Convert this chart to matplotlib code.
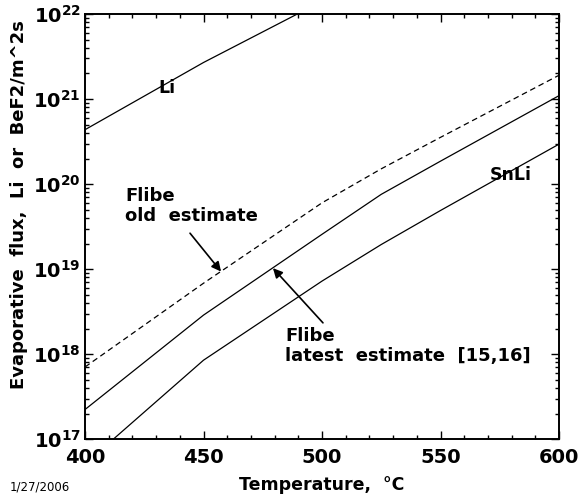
import numpy as np
import matplotlib
matplotlib.use("Agg")
import matplotlib.pyplot as plt
from matplotlib.ticker import LogLocator, MultipleLocator, NullFormatter

plt.rcParams['font.family'] = 'DejaVu Sans'
plt.rcParams['font.weight'] = 'bold'
plt.rcParams['mathtext.default'] = 'bf'

# temperatures (C) and log10 of flux
T = [400, 450, 500, 525, 550, 600]
T_li = [400, 450, 500]
log_li = [20.64, 21.43, 22.15]
log_flibe_old = [17.85, 18.835, 19.78, 20.18, 20.55, 21.28]
log_flibe_new = [17.35, 18.46, 19.41, 19.88, 20.27, 21.04]
log_snli = [16.71, 17.93, 18.86, 19.29, 19.69, 20.47]

li = 10**np.array(log_li)
flibe_old = 10**np.array(log_flibe_old)
flibe_new = 10**np.array(log_flibe_new)
snli = 10**np.array(log_snli)

fig = plt.figure(figsize=(5.8, 5.04), dpi=100)
ax = fig.add_axes([0.1466, 0.1284, 0.8172, 0.8438])

ax.plot(T_li, li, color='k', lw=0.9)
ax.plot(T, flibe_old, color='k', lw=0.9, linestyle=(0, (4.5, 3)))
ax.plot(T, flibe_new, color='k', lw=0.9)
ax.plot(T, snli, color='k', lw=0.9)

ax.set_yscale('log')
ax.set_xlim(400, 600)
ax.set_ylim(1e17, 1e22)

ax.xaxis.set_major_locator(MultipleLocator(50))
ax.xaxis.set_minor_locator(MultipleLocator(10))
ax.yaxis.set_major_locator(LogLocator(base=10, numticks=10))
ax.yaxis.set_minor_locator(LogLocator(base=10, subs=np.arange(2, 10), numticks=20))
ax.yaxis.set_minor_formatter(NullFormatter())
ax.tick_params(which='both', direction='in', top=True, right=True, width=1)
ax.tick_params(which='major', length=6, labelsize=14)
ax.tick_params(axis='x', which='major', pad=6)
ax.tick_params(axis='y', which='major', pad=3)
ax.tick_params(which='minor', length=3)
for lab in ax.get_xticklabels():
    lab.set_fontweight('bold')
for s in ax.spines.values():
    s.set_linewidth(1.4)

ax.set_xlabel('Temperature,  °C', fontsize=12.5, fontweight='bold', labelpad=7)
ax.set_ylabel('Evaporative  flux,  Li  or  BeF2/m^2s', fontsize=13, fontweight='bold')
ax.yaxis.set_label_coords(-0.12, 0.552)

ax.text(430.8, 10**21.072, 'Li', fontsize=12.5, fontweight='bold', va='baseline')
ax.text(570.9, 10**20.05, 'SnLi', fontsize=12.5, fontweight='bold', va='baseline')
ax.text(416.9, 10**19.967, 'Flibe\nold  estimate', fontsize=13, fontweight='bold',
        va='top', linespacing=1.15)
ax.text(484.4, 10**18.322, 'Flibe\nlatest  estimate  [15,16]', fontsize=13,
        fontweight='bold', va='top', linespacing=1.15)

ax.annotate('', xy=(457.4, 10**18.972), xytext=(444.3, 10**19.423),
            arrowprops=dict(arrowstyle='-|>', color='k', lw=1.2, mutation_scale=14,
                            shrinkA=0, shrinkB=0))
ax.annotate('', xy=(479.3, 10**19.012), xytext=(500.4, 10**18.369),
            arrowprops=dict(arrowstyle='-|>', color='k', lw=1.2, mutation_scale=14,
                            shrinkA=0, shrinkB=0))

fig.text(0.017, 0.034, '1/27/2006', fontsize=8.5, fontweight='normal', va='center')

fig.savefig('out.png', dpi=100)
